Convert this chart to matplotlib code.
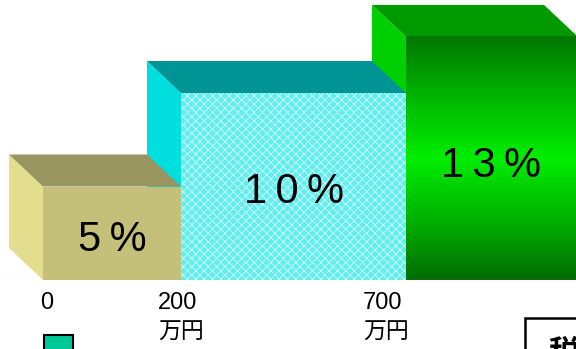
import numpy as np
import matplotlib.pyplot as plt
from matplotlib.patches import Polygon, Rectangle
from matplotlib.colors import LinearSegmentedColormap

# income brackets (lower bound, 万円) and the rate for each
bracket_nums = ['0', '200', '700']
bracket_units = ['', '万円', '万円']
rates = [5, 10, 13]

plt.rcParams['hatch.linewidth'] = 0.45

W, H = 576, 349
fig = plt.figure(figsize=(W / 100, H / 100), dpi=100)

# floor of the bars sits at pixel row 280, rates scale ~18.7 px per point
floor = 280
px_per_pt = 18.7
ax = fig.add_axes([0, (H - floor) / H, 1, floor / H])
ax.set_xlim(0, W)
ax.set_ylim(0, floor / px_per_pt)
ax.axis('off')

edges = [43, 181, 406, 578]
dx = 34
dy = 32 / px_per_pt

front_colors = ['#C4C07A', '#5EF0F0', None]
top_colors = ['#989660', '#009494', '#009A00']
side_colors = ['#E2DE8E', '#00DEDE', '#00D000']
fonts = ['Liberation Sans', 'Noto Sans CJK JP', 'DejaVu Sans']
label_y = [0.43, 0.47, 0.47]

green = LinearSegmentedColormap.from_list(
    'g', [(0, '#006C00'), (0.18, '#00A000'), (0.5, '#00EE00'),
          (0.8, '#00AA00'), (1, '#007600')])

for i in range(len(rates) - 1, -1, -1):
    v = rates[i]
    x0, x1 = edges[i], edges[i + 1]
    z = 10 - i * 3
    # left side face
    ax.add_patch(Polygon([(x0, 0), (x0, v), (x0 - dx, v + dy), (x0 - dx, dy)],
                         closed=True, facecolor=side_colors[i], edgecolor='none',
                         zorder=z))
    # top face
    ax.add_patch(Polygon([(x0, v), (x1, v), (x1 - dx, v + dy), (x0 - dx, v + dy)],
                         closed=True, facecolor=top_colors[i], edgecolor='none',
                         zorder=z))
    # front face
    if front_colors[i] is None:
        grad = np.linspace(0, 1, 256).reshape(-1, 1)
        ax.imshow(grad, cmap=green, origin='lower', aspect='auto',
                  extent=[x0, x1, 0, v], zorder=z + 1)
    elif i == 1:
        ax.add_patch(Rectangle((x0, 0), x1 - x0, v, facecolor=front_colors[i],
                               edgecolor='white', hatch='xxxx', linewidth=0,
                               zorder=z + 1))
    else:
        ax.add_patch(Rectangle((x0, 0), x1 - x0, v, facecolor=front_colors[i],
                               edgecolor='none', zorder=z + 1))
    label = '\u2009'.join(list(f'{v}%'))
    cx = (x0 + min(x1, W)) / 2
    ax.text(cx, v * label_y[i], label, fontsize=30, ha='center', va='center',
            family=fonts, color='black', zorder=z + 2)

ax.set_xlim(0, W)
ax.axhline(0, color='#C8C8C8', lw=0.8, zorder=20)

# bracket labels under the bars
label_x = [40, 158, 363]
for lx, num, unit in zip(label_x, bracket_nums, bracket_units):
    fig.text(lx / W, 1 - 292 / H, num, fontsize=17, family=fonts,
             ha='left', va='top')
    if unit:
        fig.text(lx / W, 1 - 321 / H, unit, fontsize=16.5, family=fonts,
                 ha='left', va='top')

# legend swatch and the clipped box at the bottom edge
fig.patches.append(Rectangle((44 / W, -0.05), 29 / W, (H - 335) / H + 0.05,
                             transform=fig.transFigure, facecolor='#00C896',
                             edgecolor='black', linewidth=1.5))
fig.patches.append(Rectangle((525 / W, -0.05), 60 / W, (H - 318) / H + 0.05,
                             transform=fig.transFigure, facecolor='white',
                             edgecolor='black', linewidth=1.8))
fig.text(548 / W, 1 - 339 / H, '税', fontsize=22, family=fonts,
         fontweight='bold', ha='left', va='top')

plt.savefig('out.png', dpi=100)
plt.close()
